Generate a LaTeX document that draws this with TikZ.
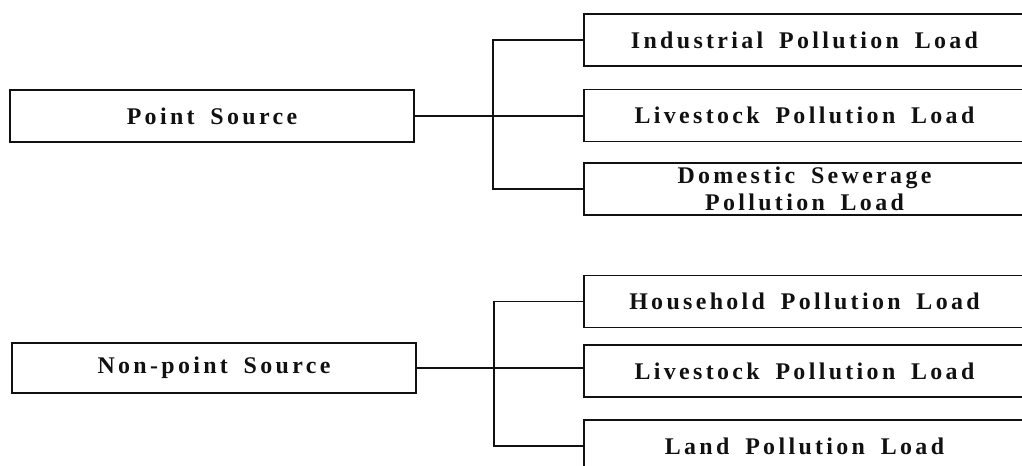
\documentclass[tikz,border=0pt]{standalone}
\usepackage{fontspec}
\setmainfont{Liberation Serif}[LetterSpace=14, WordSpace=1.7]
\usetikzlibrary{positioning,calc}
\definecolor{ink}{HTML}{111111}
\tikzset{
  px/.style={x=0.025cm, y=-0.025cm},
  src/.style={draw=ink, line width=1.2pt, fill=white, align=center, inner sep=0pt,
    minimum width=10.1cm, minimum height=1.3cm, text=ink,
    font=\fontsize{17pt}{19pt}\selectfont\bfseries},
  load/.style={src, minimum width=11.03cm},
  wire/.style={draw=ink, line width=0.8pt},
  bus/.style={draw=ink, line width=1.3pt},
}

\begin{document}
\begin{tikzpicture}[px]
    \useasboundingbox (0,0) rectangle (1022,466);
    \clip (0,0) rectangle (1022,466);
    % sources
    \node[src] (ps) at (212,116) {Point Source};
    \node[src, minimum height=1.25cm] (nps) at (214,368) {Non-point Source};
    % point source loads
    \node[load] (ind) at (804.5,40) {Industrial Pollution Load};
    \node[load] (liv) at (804.5,115.5) {Livestock Pollution Load};
    \node[load] (dom) at (804.5,189) {Domestic Sewerage\\Pollution Load};
    % non-point source loads
    \node[load] (hh) at (804.5,301.5) {Household Pollution Load};
    \node[load] (nliv) at (804.5,371) {Livestock Pollution Load};
    \node[load] (land) at (804.5,446) {Land Pollution Load};
    \coordinate (pbus) at (493,0);
    \coordinate (nbus) at (494,0);
    \draw[wire] (ps.east) -- (ps.east -| liv.west);
    \draw[bus] (ind.west) -- (ind.west -| pbus) |- (dom.west);
    \draw[wire] (nps.east) -- (nps.east -| nliv.west);
    \draw[bus] (hh.west) -- (hh.west -| nbus) |- (land.west);
  \end{tikzpicture}
\end{document}
